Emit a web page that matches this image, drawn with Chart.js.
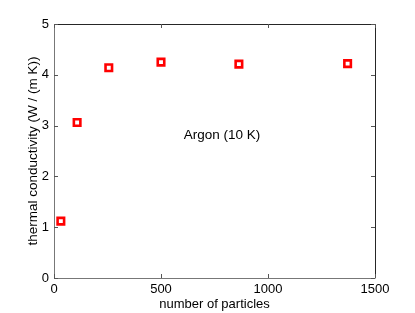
<!DOCTYPE html>
<html><head><meta charset="utf-8">
<script src="https://cdn.jsdelivr.net/npm/chart.js@4"></script>
<style>html,body{margin:0;padding:0;background:#fff;}#wrap{width:415px;height:313px;}</style>
</head><body><div id="wrap"><canvas id="c" width="415" height="313"></canvas></div>
<script>
const particles = [32, 108, 256, 500, 864, 1372];
const conductivity = [1.12, 3.06, 4.14, 4.25, 4.21, 4.22];
const xTicks = [0, 500, 1000, 1500];
const yTicks = [0, 1, 2, 3, 4, 5];
const annotation = {x: 785, y: 2.8, text: 'Argon (10 K)'};
const yTitle = 'thermal conductivity (W / (m K))';
const xTitle = 'number of particles';

const FONT = '"Liberation Sans", Arial, sans-serif';

const boxPlugin = {
  id: 'box',
  afterDraw(chart) {
    const {ctx, chartArea: a, scales} = chart;
    ctx.save();
    ctx.lineWidth = 1;
    ctx.strokeStyle = '#262626';
    ctx.beginPath();
    ctx.moveTo(a.left, a.top + 0.5); ctx.lineTo(a.right + 0.5, a.top + 0.5);
    ctx.lineTo(a.right + 0.5, a.bottom);
    ctx.stroke();
    ctx.strokeStyle = '#777';
    ctx.beginPath();
    ctx.moveTo(a.left + 0.5, a.top); ctx.lineTo(a.left + 0.5, a.bottom + 0.5);
    ctx.lineTo(a.right + 0.5, a.bottom + 0.5);
    ctx.stroke();
    const L = 4;
    ctx.strokeStyle = '#555';
    ctx.beginPath();
    xTicks.forEach(v => {
      const px = Math.round(scales.x.getPixelForValue(v)) + 0.5;
      ctx.moveTo(px, a.bottom); ctx.lineTo(px, a.bottom - L);
      ctx.moveTo(px, a.top); ctx.lineTo(px, a.top + L);
    });
    yTicks.forEach(v => {
      const py = Math.round(scales.y.getPixelForValue(v)) + 0.5;
      ctx.moveTo(a.left, py); ctx.lineTo(a.left + L, py);
      ctx.moveTo(a.right, py); ctx.lineTo(a.right - L, py);
    });
    ctx.stroke();
    ctx.fillStyle = '#000';
    ctx.font = '13.5px ' + FONT;
    ctx.textAlign = 'center';
    ctx.textBaseline = 'middle';
    ctx.fillText(annotation.text, scales.x.getPixelForValue(annotation.x), scales.y.getPixelForValue(annotation.y));
    ctx.save();
    ctx.translate(33, (a.top + a.bottom) / 2);
    ctx.rotate(-Math.PI / 2);
    ctx.font = '13.5px ' + FONT;
    ctx.fillText(yTitle, 0, 0);
    ctx.restore();
    ctx.restore();
  }
};

new Chart(document.getElementById('c'), {
  type: 'scatter',
  data: {
    datasets: [{
      data: particles.map((x, i) => ({x, y: conductivity[i]})),
      pointStyle: 'rect',
      pointRadius: 4.6,
      pointHoverRadius: 4.6,
      borderWidth: 2.6,
      borderColor: '#ff0000',
      backgroundColor: '#ffffff'
    }]
  },
  options: {
    responsive: false,
    animation: false,
    devicePixelRatio: 1,
    layout: {padding: {left: 0, right: 40, top: 24, bottom: 0}},
    plugins: {legend: {display: false}, tooltip: {enabled: false}},
    scales: {
      x: {
        type: 'linear', min: 0, max: 1500,
        afterBuildTicks: s => { s.ticks = xTicks.map(v => ({value: v})); },
        afterFit: s => { s.height = 35; },
        grid: {display: false, drawTicks: false},
        border: {display: false},
        ticks: {color: '#000', font: {family: FONT, size: 13}, padding: 4, maxRotation: 0, callback: v => String(v)},
        title: {display: true, text: xTitle, color: '#000', font: {family: FONT, size: 13}, padding: {top: 0, bottom: 1}}
      },
      y: {
        type: 'linear', min: 0, max: 5,
        afterBuildTicks: s => { s.ticks = yTicks.map(v => ({value: v})); },
        afterFit: s => { s.width = 54; },
        grid: {display: false, drawTicks: false},
        border: {display: false},
        ticks: {color: '#000', font: {family: FONT, size: 13}, padding: 5, callback: v => String(v)},
        title: {display: false}
      }
    }
  },
  plugins: [boxPlugin]
});
</script>
</body></html>
